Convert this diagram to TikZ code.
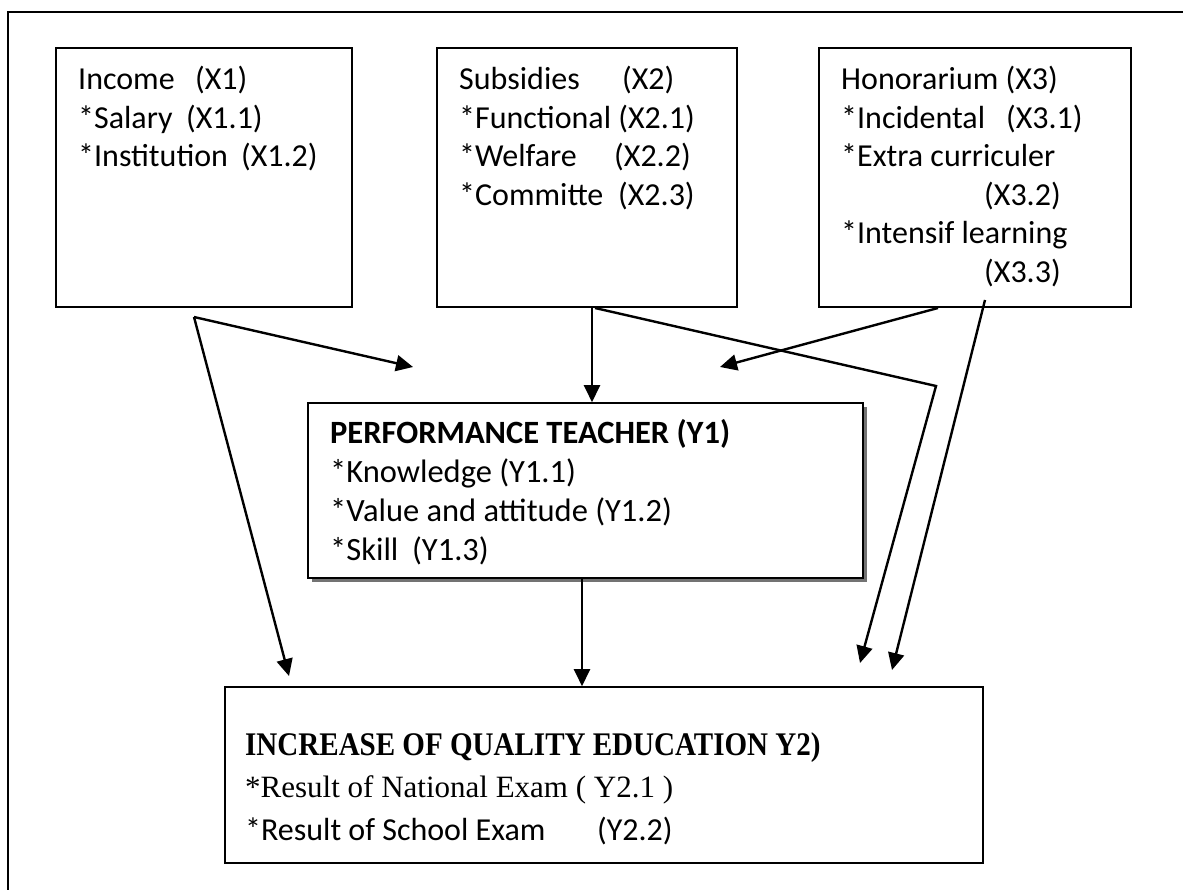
\documentclass[tikz,border=0pt]{standalone}
\usepackage{fontspec}
\setmainfont{Carlito}
\newfontfamily\serifhead[FakeStretch=0.88]{Liberation Serif}
\newfontfamily\seriftext{Liberation Serif}
\usetikzlibrary{arrows.meta,shadows}
\tikzset{
  box/.style={draw, line width=1.6pt, inner sep=0pt, fill=white},
  txt/.style={anchor=base west, inner sep=0pt, font=\fontsize{32}{38.5}\selectfont},
  arr/.style={line width=2.4pt, line join=miter, -{Triangle[length=17pt,width=16pt]}}
}
\newcommand{\mb}[2]{\makebox[#1pt][l]{#2}}
\newcommand{\st}{{*}}
\begin{document}
\begin{tikzpicture}[x=1pt,y=-1pt]
\useasboundingbox (0,0) rectangle (1183,890);
\fill[white] (0,0) rectangle (1183,890);
% outer frame (right and bottom edges lie outside the page)
\draw[line width=2.2pt] (8,905) -- (8,12) -- (1195,12);

% boxes
\node[box, minimum width=296pt, minimum height=259pt] (inc) at (204,177.5) {};
\node[box, minimum width=300pt, minimum height=259pt] (sub) at (587,177.5) {};
\node[box, minimum width=312pt, minimum height=259pt] (hon) at (975,177.5) {};
\node[box, minimum width=555pt, minimum height=175pt,
      drop shadow={shadow xshift=4pt, shadow yshift=-4pt, fill=black!55, opacity=1}] (perf) at (585.5,490.5) {};
\node[box, minimum width=758pt, minimum height=176pt] (qual) at (604,775) {};

% texts
\node[txt] (tinc) at (78,90) {\begin{tabular}[t]{@{}l@{}}
\mb{117}{Income}(X1)\\
\mb{108}{\st Salary}(X1.1)\\
\mb{163}{\st Institution}(X1.2)
\end{tabular}};
\node[txt] (tsub) at (459,90) {\begin{tabular}[t]{@{}l@{}}
\mb{163}{Subsidies}(X2)\\
\st Functional (X2.1)\\
\mb{155}{\st Welfare}(X2.2)\\
\mb{159}{\st Committe}(X2.3)
\end{tabular}};
\node[txt] (thon) at (841,90) {\begin{tabular}[t]{@{}l@{}}
Honorarium (X3)\\
\mb{165}{\st Incidental}(X3.1)\\
\st Extra curriculer\\
\mb{143}{}(X3.2)\\
\st Intensif learning\\
\mb{143}{}(X3.3)
\end{tabular}};
\node[txt, font=\fontsize{32.5}{39}\selectfont] (tperf) at (330,443) {\begin{tabular}[t]{@{}l@{}}
\textbf{PERFORMANCE TEACHER (Y1)}\\
\st Knowledge (Y1.1)\\
\st Value and attitude (Y1.2)\\
\mb{82}{\st Skill}(Y1.3)
\end{tabular}};
\node[anchor=base west, inner sep=0pt] (tq1) at (245,755)
  {\fontsize{33}{40}\serifhead\bfseries INCREASE OF QUALITY EDUCATION Y2)};
\node[anchor=base west, inner sep=0pt] (tq2) at (245,797)
  {\fontsize{31}{40}\seriftext *Result of National Exam ( Y2.1 )};
\node[anchor=base west, inner sep=0pt, font=\fontsize{32}{38.5}\selectfont] (tq3) at (245,840)
  {\mb{352}{*Result of School Exam}(Y2.2)};

% connector end points
\coordinate (incS) at (194,317);
\coordinate (incT1) at (413,367);
\coordinate (incT2) at (289,676);
\coordinate (subS) at (595,308);
\coordinate (bend) at (936,386);
\coordinate (subT) at (860,663);
\coordinate (honS) at (938,308);
\coordinate (honT) at (720,367);
\coordinate (honS2) at (985,300);
\coordinate (honT2) at (892,670);

% connectors
\draw[arr] (incS) -- (incT1);
\draw[arr] (incS) -- (incT2);
\draw[arr] (sub.south -| 592,0) -- (perf.north -| 592,0);
\draw[arr] (subS) -- (bend) -- (subT);
\draw[arr] (honS) -- (honT);
\draw[arr] (honS2) -- (honT2);
\draw[arr] (perf.south -| 582,0) -- (qual.north -| 582,0);
\end{tikzpicture}
\end{document}
